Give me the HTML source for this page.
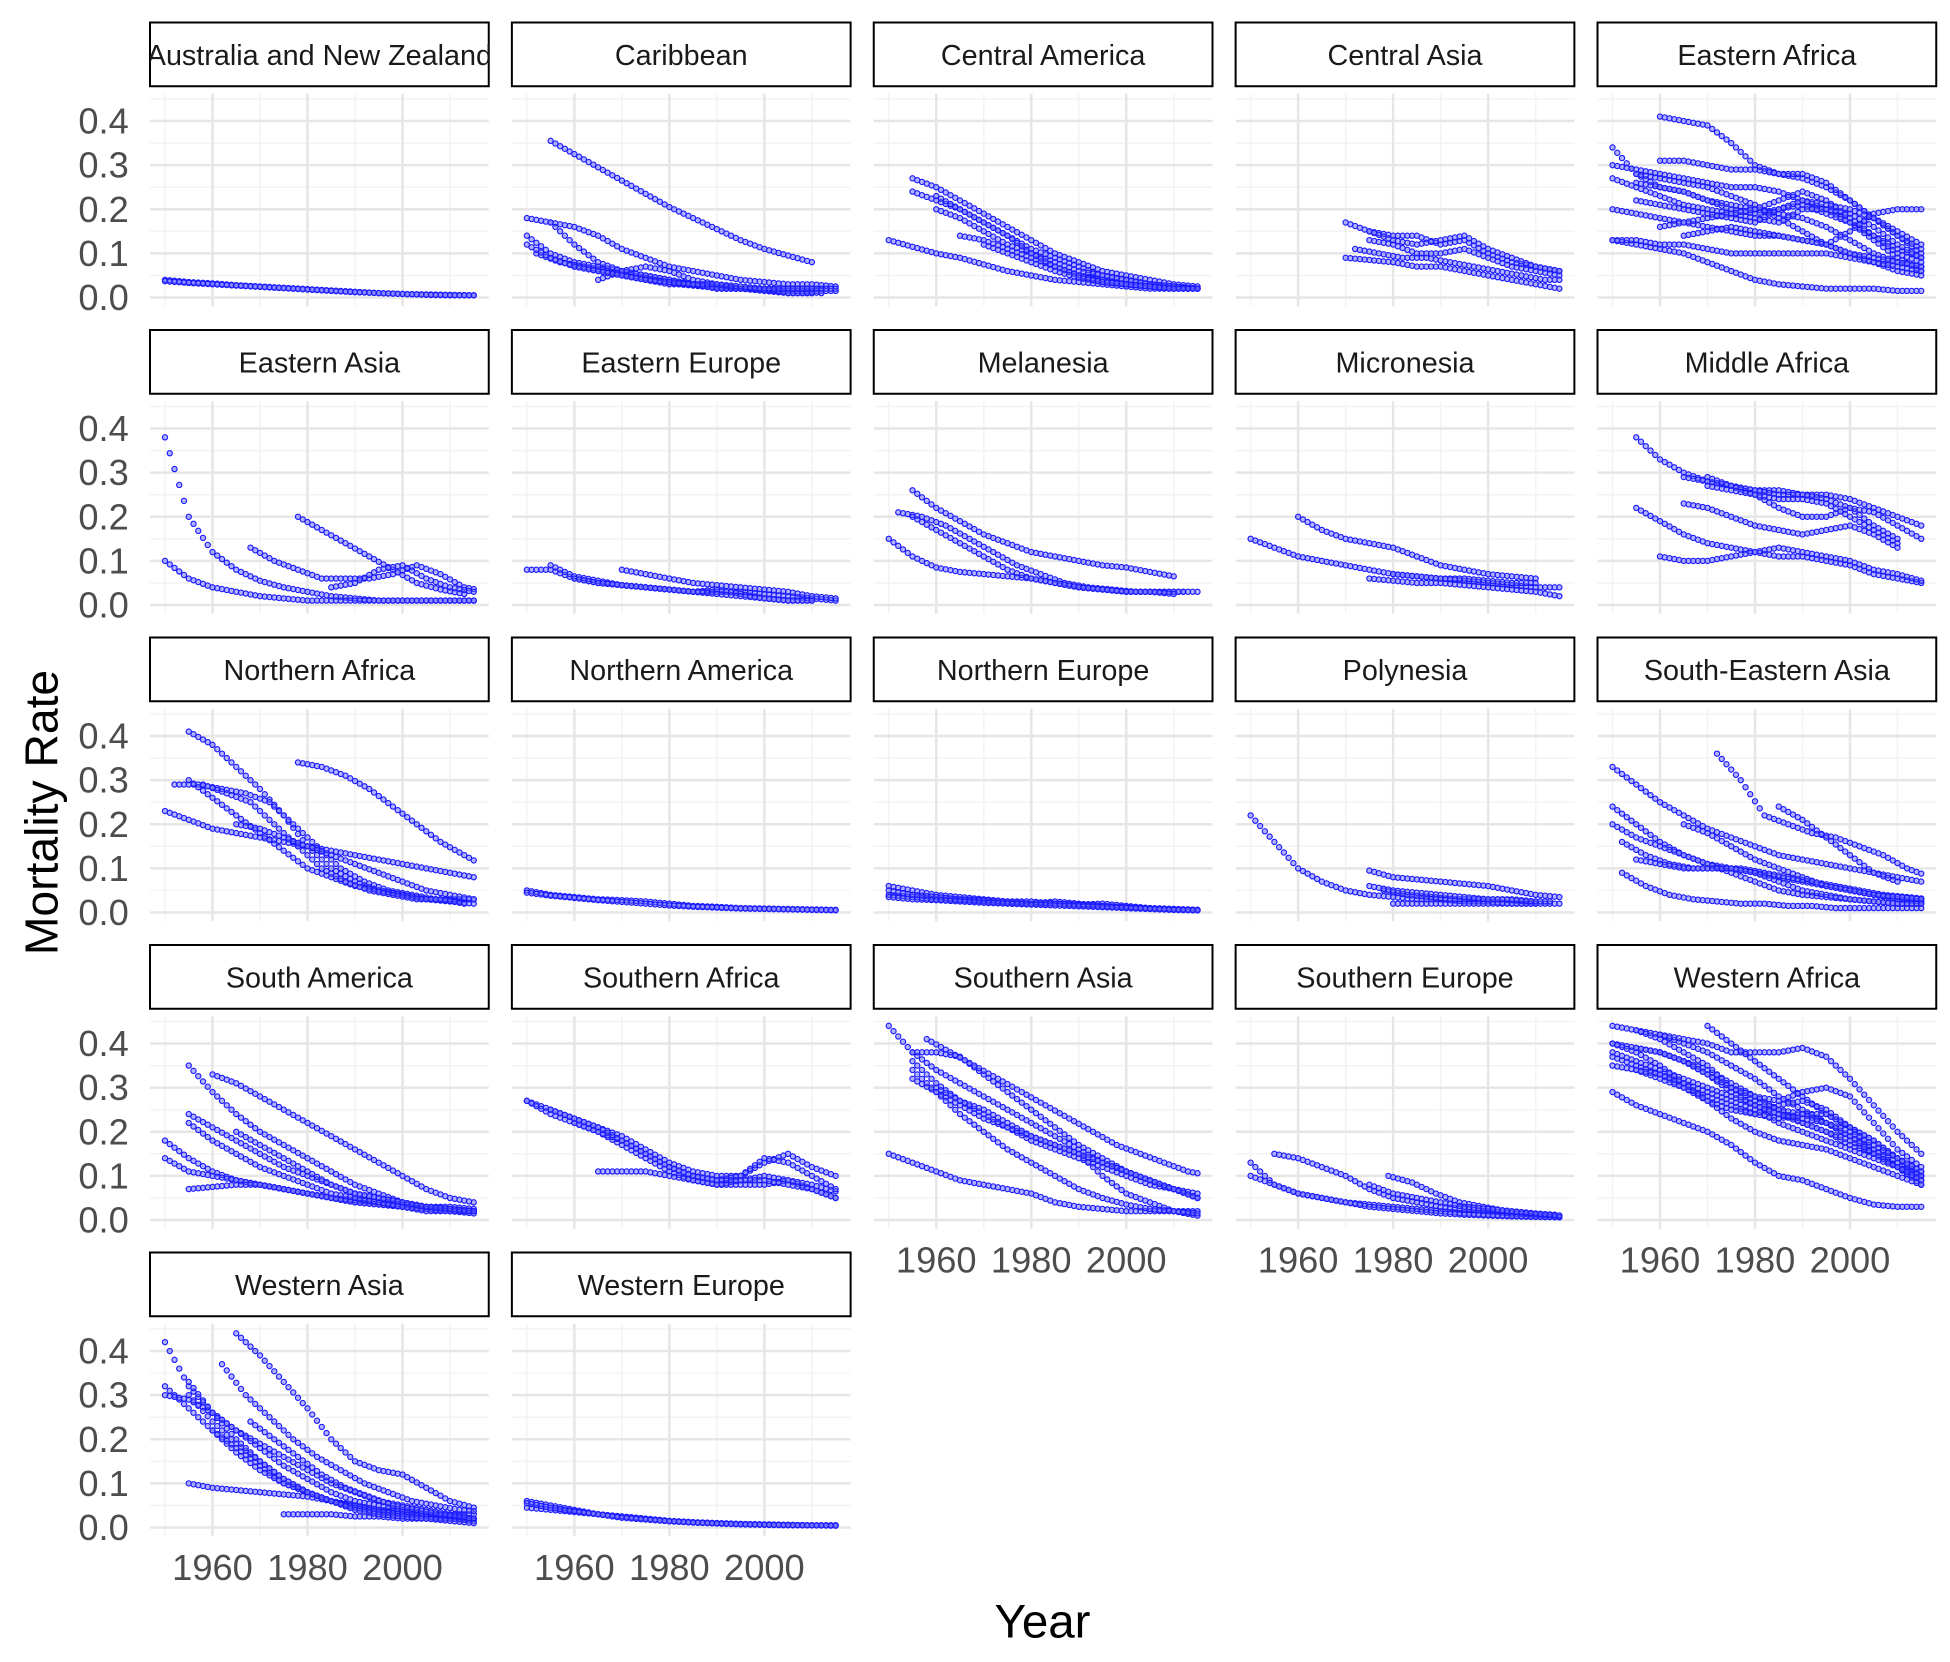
<!DOCTYPE html>
<html><head><meta charset="utf-8"><style>
html,body{margin:0;padding:0;background:#fff}
svg{display:block}
text{font-family:"Liberation Sans",Arial,sans-serif}
</style></head><body>
<svg id="chart" width="1950" height="1662" viewBox="0 0 1560 1329.6" xmlns="http://www.w3.org/2000/svg"></svg>
<script>
const regions = ["Australia and New Zealand","Caribbean","Central America","Central Asia","Eastern Africa","Eastern Asia","Eastern Europe","Melanesia","Micronesia","Middle Africa","Northern Africa","Northern America","Northern Europe","Polynesia","South-Eastern Asia","South America","Southern Africa","Southern Asia","Southern Europe","Western Africa","Western Asia","Western Europe"];
const yTicks = [0,0.1,0.2,0.3,0.4];
const yTickLabels = ["0.0","0.1","0.2","0.3","0.4"];
const xTicks = [1960,1980,2000];
const xTickLabels = ["1960","1980","2000"];
const sampleStep = 5;
// each series: [startYear, value every 5 years...]
const seriesAUS = [[1950,.04,.035,.032,.028,.025,.022,.019,.016,.013,.01,.008,.007,.006,.005],[1950,.037,.033,.03,.027,.024,.021,.018,.015,.012,.01,.008,.006,.005,.005]];
const seriesCAR = [[1955,.355,.325,.295,.265,.235,.205,.18,.155,.13,.11,.095,.08],[1950,.18,.17,.16,.14,.11,.09,.07,.06,.05,.04,.035,.03,.03,.025],[1950,.14,.1,.08,.07,.06,.05,.04,.03,.025,.02,.02,.015,.015,.015],[1952,.1,.08,.07,.06,.05,.04,.03,.025,.02,.02,.015,.015,.01],[1955,.17,.12,.08,.06,.05,.04,.03,.02,.02,.015,.01,.01],[1965,.04,.06,.07,.06,.04,.03,.02,.02,.01,.01],[1950,.12,.09,.07,.06,.05,.04,.03,.03,.02,.02,.02,.02,.02,.02],[1960,.07,.06,.05,.04,.035,.03,.03,.025,.02,.02,.02]];
const seriesCAM = [[1955,.27,.25,.22,.19,.16,.13,.1,.08,.06,.05,.04,.03,.025],[1955,.24,.22,.2,.17,.14,.11,.09,.07,.05,.04,.03,.025,.02],[1950,.13,.115,.1,.09,.075,.06,.05,.04,.035,.03,.025,.02,.02,.02],[1960,.2,.18,.15,.12,.1,.08,.06,.05,.04,.03,.025,.02],[1965,.14,.13,.11,.09,.07,.05,.04,.03,.025,.02,.02],[1960,.23,.2,.17,.14,.1,.07,.05,.035,.03,.025,.02,.02],[1970,.12,.1,.08,.06,.045,.035,.03,.025,.02]];
const seriesCAS = [[1970,.17,.15,.14,.14,.12,.13,.1,.08,.07,.06],[1975,.13,.12,.1,.1,.11,.09,.07,.06,.05],[1970,.09,.085,.08,.07,.07,.06,.05,.04,.03,.02],[1975,.15,.13,.12,.13,.14,.11,.09,.07,.06],[1972,.11,.1,.09,.09,.08,.07,.06,.05,.04,.04]];
const seriesEAF = [[1960,.41,.4,.39,.35,.3,.28,.27,.25,.22,.18,.14,.1],[1950,.34,.28,.25,.24,.22,.21,.2,.19,.18,.16,.13,.1,.08,.07],[1950,.3,.29,.28,.27,.26,.25,.25,.24,.22,.2,.17,.13,.09,.06],[1950,.13,.12,.11,.1,.08,.06,.04,.03,.025,.02,.02,.02,.015,.015],[1950,.2,.19,.18,.17,.16,.15,.14,.14,.13,.12,.1,.08,.06,.05],[1955,.26,.25,.24,.22,.2,.19,.2,.21,.19,.17,.14,.11,.09],[1960,.31,.31,.3,.29,.29,.28,.28,.26,.22,.18,.14,.11],[1950,.27,.25,.23,.21,.2,.19,.18,.17,.2,.2,.19,.16,.12,.09],[1955,.28,.27,.26,.25,.23,.21,.18,.15,.12,.1,.09,.08,.07],[1960,.16,.17,.18,.19,.2,.22,.24,.22,.18,.14,.1,.08],[1950,.13,.13,.12,.12,.11,.1,.1,.1,.1,.1,.09,.08,.07,.06],[1965,.14,.15,.16,.15,.14,.13,.12,.15,.19,.2,.2,.19,.15],[1955,.22,.21,.2,.19,.18,.17,.2,.22,.21,.2,.18,.15,.12]];
const seriesEAS = [[1950,.38,.2,.12,.08,.055,.04,.03,.02,.015,.01,.01,.01,.01,.01],[1950,.1,.06,.04,.03,.02,.015,.01,.01,.01,.01,.01,.01,.01,.01],[1968,.13,.1,.08,.06,.06,.06,.07,.09,.07,.04,.03],[1978,.2,.17,.14,.11,.08,.05,.035,.025],[1985,.04,.05,.08,.09,.06,.04,.03]];
const seriesEEU = [[1950,.08,.08,.06,.05,.045,.04,.035,.03,.03,.03,.025,.02,.015,.01],[1970,.08,.07,.06,.05,.045,.04,.035,.03,.02,.015],[1955,.09,.065,.055,.045,.04,.035,.03,.035,.025,.015,.01,.01],[1960,.06,.05,.045,.04,.035,.03,.025,.02,.015,.01,.01]];
const seriesMEL = [[1955,.26,.22,.19,.16,.14,.12,.11,.1,.09,.085,.075,.065],[1952,.21,.2,.18,.15,.12,.09,.07,.05,.04,.035,.03,.03,.03],[1950,.15,.11,.085,.075,.07,.065,.06,.05,.04,.035,.03,.03,.03,.03],[1955,.2,.17,.14,.11,.08,.06,.05,.04,.035,.03,.03,.025]];
const seriesMIC = [[1960,.2,.17,.15,.14,.13,.11,.09,.08,.07,.065,.06],[1950,.15,.13,.11,.1,.09,.08,.07,.065,.06,.055,.05,.045,.04,.04],[1975,.06,.055,.05,.05,.045,.04,.035,.03,.02],[1980,.07,.065,.06,.06,.055,.05,.05]];
const seriesMAF = [[1955,.38,.33,.3,.28,.27,.26,.26,.25,.25,.24,.22,.2,.18],[1965,.29,.28,.27,.26,.25,.25,.24,.22,.18,.15],[1955,.22,.19,.16,.14,.13,.12,.11,.11,.1,.09,.07,.06,.05],[1960,.11,.1,.1,.11,.12,.13,.12,.11,.1,.08,.07,.055],[1970,.29,.27,.25,.22,.2,.2,.22,.21,.18,.15],[1970,.27,.26,.25,.24,.24,.23,.2,.17,.14],[1965,.23,.22,.2,.18,.17,.16,.17,.18,.16,.13]];
const seriesNAF = [[1955,.41,.38,.33,.28,.22,.15,.1,.07,.05,.04,.03,.025,.02],[1952,.29,.29,.28,.27,.25,.2,.15,.1,.07,.05,.04,.03,.025],[1978,.34,.33,.31,.28,.24,.2,.16,.13,.1],[1950,.23,.21,.19,.18,.17,.16,.15,.14,.13,.12,.11,.1,.09,.08],[1955,.3,.26,.22,.18,.14,.1,.08,.06,.05,.04,.03,.03,.03],[1958,.29,.27,.25,.2,.15,.1,.07,.05,.04,.03,.03,.02],[1965,.2,.19,.17,.15,.13,.11,.09,.07,.05,.04,.03]];
const seriesNAM = [[1950,.05,.04,.035,.03,.028,.025,.02,.015,.013,.01,.009,.008,.007,.006],[1950,.045,.038,.033,.028,.024,.02,.016,.013,.011,.009,.008,.007,.006,.005]];
const seriesNEU = [[1950,.06,.05,.04,.035,.03,.025,.02,.025,.02,.015,.01,.008,.006,.005],[1950,.04,.035,.03,.028,.025,.022,.02,.02,.018,.02,.015,.01,.008,.006],[1950,.05,.04,.035,.03,.028,.025,.025,.02,.017,.015,.012,.01,.008,.006],[1950,.035,.03,.028,.025,.022,.02,.018,.016,.014,.012,.01,.008,.006,.005]];
const seriesPOL = [[1950,.22,.16,.1,.07,.05,.04,.035,.03,.03,.025,.025,.02,.02,.02],[1975,.095,.08,.075,.07,.065,.06,.05,.04,.035],[1978,.05,.04,.035,.03,.03,.03,.025,.025],[1980,.02,.02,.02,.02,.02,.02,.02],[1975,.06,.05,.045,.04,.035,.03,.03,.025]];
const seriesSEA = [[1950,.33,.29,.25,.22,.19,.17,.15,.13,.12,.11,.1,.09,.08,.07],[1950,.24,.2,.16,.13,.11,.1,.09,.08,.07,.06,.05,.04,.03,.025],[1972,.36,.3,.22,.2,.18,.17,.15,.13,.1,.08],[1985,.24,.21,.17,.13,.09,.07],[1952,.16,.13,.11,.1,.1,.1,.09,.08,.07,.06,.05,.04,.035,.03],[1952,.09,.06,.04,.03,.025,.02,.02,.015,.015,.01,.01,.01,.01,.01],[1950,.2,.17,.15,.13,.11,.09,.07,.05,.04,.035,.03,.025,.02,.02],[1955,.12,.11,.1,.1,.1,.09,.07,.05,.04,.03,.025,.02,.02],[1965,.2,.18,.15,.12,.1,.08,.06,.05,.04,.035,.03]];
const seriesSAM = [[1955,.35,.29,.24,.2,.17,.14,.11,.08,.06,.04,.03,.025,.02],[1960,.33,.31,.28,.25,.22,.19,.16,.13,.1,.07,.05,.04],[1955,.24,.21,.18,.15,.12,.1,.08,.06,.05,.04,.03,.03,.025],[1950,.18,.14,.11,.09,.08,.07,.06,.05,.04,.035,.03,.025,.02,.02],[1950,.14,.11,.1,.09,.08,.07,.06,.05,.045,.04,.035,.03,.025,.02],[1955,.07,.075,.08,.08,.07,.06,.05,.04,.035,.03,.025,.02,.02],[1955,.22,.18,.15,.12,.1,.08,.06,.05,.04,.03,.02,.02,.015],[1965,.2,.17,.14,.11,.08,.06,.05,.04,.03,.025,.02]];
const seriesSAF = [[1950,.27,.25,.23,.21,.19,.16,.13,.11,.1,.1,.13,.15,.12,.1],[1950,.27,.24,.22,.2,.17,.14,.11,.09,.08,.09,.1,.09,.07,.05],[1965,.11,.11,.11,.1,.09,.08,.08,.08,.09,.08,.065],[1960,.22,.2,.18,.15,.12,.1,.09,.1,.14,.13,.1,.07],[1955,.25,.23,.21,.18,.15,.12,.1,.09,.09,.09,.08,.07,.05]];
const seriesSAS = [[1950,.44,.38,.34,.31,.28,.25,.22,.19,.16,.13,.11,.09,.07,.05],[1955,.38,.38,.37,.33,.29,.25,.21,.17,.14,.11,.09,.07,.05],[1958,.41,.38,.35,.32,.29,.26,.23,.2,.17,.15,.13,.11,.1],[1950,.15,.13,.11,.09,.08,.07,.06,.04,.03,.025,.02,.02,.02,.02],[1955,.32,.29,.26,.23,.21,.18,.16,.14,.12,.1,.08,.07,.06],[1955,.36,.31,.27,.24,.21,.19,.17,.15,.1,.06,.04,.02,.01],[1960,.3,.27,.25,.22,.19,.17,.15,.13,.11,.09,.07,.05],[1955,.34,.29,.24,.2,.16,.13,.1,.07,.05,.035,.025,.02,.015]];
const seriesSEU = [[1950,.13,.08,.06,.05,.04,.035,.03,.025,.02,.015,.012,.01,.008,.007],[1955,.15,.14,.12,.1,.07,.05,.04,.03,.025,.02,.015,.012,.01],[1950,.1,.08,.06,.05,.04,.03,.025,.02,.015,.012,.01,.008,.007,.006],[1979,.1,.085,.06,.04,.03,.02,.015,.012],[1975,.08,.06,.05,.04,.03,.025,.02,.015,.01]];
const seriesWAF = [[1950,.44,.43,.42,.4,.38,.35,.32,.28,.25,.22,.19,.16,.13,.1],[1950,.4,.39,.38,.36,.34,.31,.28,.25,.22,.2,.17,.15,.12,.1],[1950,.37,.35,.33,.3,.28,.26,.24,.23,.24,.24,.21,.18,.14,.1],[1950,.29,.26,.24,.22,.2,.17,.13,.1,.09,.07,.05,.035,.03,.03],[1960,.42,.41,.4,.38,.38,.38,.39,.37,.32,.26,.2,.15],[1970,.44,.4,.36,.32,.28,.24,.21,.18,.14,.11],[1950,.35,.34,.32,.3,.27,.25,.24,.26,.27,.25,.21,.16,.12,.08],[1950,.38,.36,.34,.32,.3,.28,.26,.24,.22,.2,.18,.15,.12,.09],[1955,.43,.41,.38,.35,.3,.27,.25,.24,.22,.19,.15,.12,.1],[1955,.34,.33,.31,.29,.27,.25,.22,.2,.18,.16,.14,.12,.09],[1950,.4,.38,.35,.31,.27,.23,.2,.18,.17,.16,.14,.12,.1,.08],[1960,.38,.36,.33,.29,.26,.24,.23,.22,.2,.17,.14,.11],[1955,.39,.38,.36,.33,.3,.28,.27,.29,.3,.28,.22,.16,.12]];
const seriesWAS = [[1950,.42,.32,.26,.22,.19,.16,.13,.1,.08,.06,.05,.04,.03,.03],[1965,.44,.39,.33,.27,.2,.15,.13,.12,.09,.06,.045],[1962,.37,.3,.25,.2,.16,.13,.1,.08,.06,.05,.04,.035],[1950,.32,.27,.22,.18,.14,.1,.08,.06,.05,.04,.03,.025,.02,.02],[1955,.1,.09,.085,.08,.075,.07,.06,.05,.04,.035,.03,.025,.02],[1950,.3,.29,.26,.22,.18,.14,.11,.08,.06,.05,.04,.03,.025,.02],[1955,.3,.24,.19,.15,.11,.08,.06,.045,.035,.03,.025,.02,.015],[1960,.22,.17,.13,.1,.08,.06,.045,.035,.03,.025,.02,.02],[1975,.03,.03,.03,.025,.025,.02,.02,.02],[1955,.33,.26,.2,.15,.11,.08,.06,.04,.03,.025,.02,.015,.01],[1968,.24,.2,.16,.12,.09,.07,.05,.04,.03,.025]];
const seriesWEU = [[1950,.06,.05,.04,.03,.025,.02,.015,.012,.01,.008,.007,.006,.005,.005],[1950,.045,.04,.035,.03,.025,.02,.015,.012,.01,.008,.007,.006,.005,.005],[1950,.055,.045,.037,.03,.022,.018,.014,.011,.009,.007,.006,.005,.005,.004]];
const allSeries = [seriesAUS,seriesCAR,seriesCAM,seriesCAS,seriesEAF,seriesEAS,seriesEEU,seriesMEL,seriesMIC,seriesMAF,seriesNAF,seriesNAM,seriesNEU,seriesPOL,seriesSEA,seriesSAM,seriesSAF,seriesSAS,seriesSEU,seriesWAF,seriesWAS,seriesWEU];

const NS="http://www.w3.org/2000/svg";
const svg=document.getElementById('chart');
function mk(tag,attrs,parent){const e=document.createElementNS(NS,tag);for(const k in attrs)e.setAttribute(k,attrs[k]);(parent||svg).appendChild(e);return e;}
const colStep=289.5, rowStep=246, pw=271;
function xScale(c,yr){return 120+c*colStep+12+(yr-1950)*3.8;}
function yScale(r,v){return 18+r*rowStep+220-v*353;}

regions.forEach((name,i)=>{
  const c=i%5, r=Math.floor(i/5);
  const left=120+c*colStep, st=18+r*rowStep;
  const g=mk('g',{});
  
  
  const pt=st+57, pb=st+227;
  for(let v=0.05;v<0.45;v+=0.1){mk('line',{x1:left,x2:left+pw,y1:yScale(r,v),y2:yScale(r,v),stroke:'#f3f3f3','stroke-width':1.2},g);}
  [1950,1970,1990,2010].forEach(yr=>mk('line',{x1:xScale(c,yr),x2:xScale(c,yr),y1:pt,y2:pb,stroke:'#f3f3f3','stroke-width':1.2},g));
  yTicks.forEach(v=>mk('line',{x1:left,x2:left+pw,y1:yScale(r,v),y2:yScale(r,v),stroke:'#e6e6e6','stroke-width':2},g));
  xTicks.forEach(yr=>mk('line',{x1:xScale(c,yr),x2:xScale(c,yr),y1:pt,y2:pb,stroke:'#e6e6e6','stroke-width':2},g));
  const sr=mk('rect',{x:left,y:st,width:pw,height:51,fill:'#fff',stroke:'#000','stroke-width':1.6},g);
  
  
  const clip=mk('clipPath',{id:'clip'+i},g);mk('rect',{x:left,y:st,width:pw,height:51},clip);
  const t=mk('text',{x:left+pw/2,y:st+34,'text-anchor':'middle','font-size':23,fill:'#1a1a1a','clip-path':'url(#clip'+i+')'},g);
  t.textContent=name;
  
  
  if(c===0){yTicks.forEach((v,k)=>{const yl=mk('text',{x:103,y:yScale(r,v)+10,'text-anchor':'end','font-size':29,fill:'#4d4d4d'},g);yl.textContent=yTickLabels[k];
    
    });}
  const isBottom = (i+5>=regions.length);
  if(isBottom){xTicks.forEach((yr,k)=>{const xl=mk('text',{x:xScale(c,yr),y:pb+35,'text-anchor':'middle','font-size':29,fill:'#4d4d4d'},g);xl.textContent=xTickLabels[k];
    
    });}
  allSeries[i].forEach(s=>{
    const y0=s[0], vals=s.slice(1);
    const lastYr=Math.min(2015,y0+(vals.length-1)*sampleStep);
    for(let yr=y0;yr<=lastYr;yr++){
      const f=(yr-y0)/sampleStep, k=Math.floor(f), fr=f-k;
      const v=k+1<vals.length? vals[k]*(1-fr)+vals[k+1]*fr : vals[vals.length-1];
      const p=mk('circle',{cx:xScale(c,yr),cy:yScale(r,v),r:2.1,fill:'rgba(90,90,255,0.45)',stroke:'#1a1aff','stroke-width':0.9},g);
      
      
    }
  });
});
const xt=mk('text',{x:834,y:1310,'text-anchor':'middle','font-size':38,fill:'#000'});
xt.textContent='Year';


const yt=mk('text',{x:0,y:0,'text-anchor':'middle','font-size':37,fill:'#000',transform:'translate(46,650) rotate(-90)'});
yt.textContent='Mortality Rate';


</script>
</body></html>
